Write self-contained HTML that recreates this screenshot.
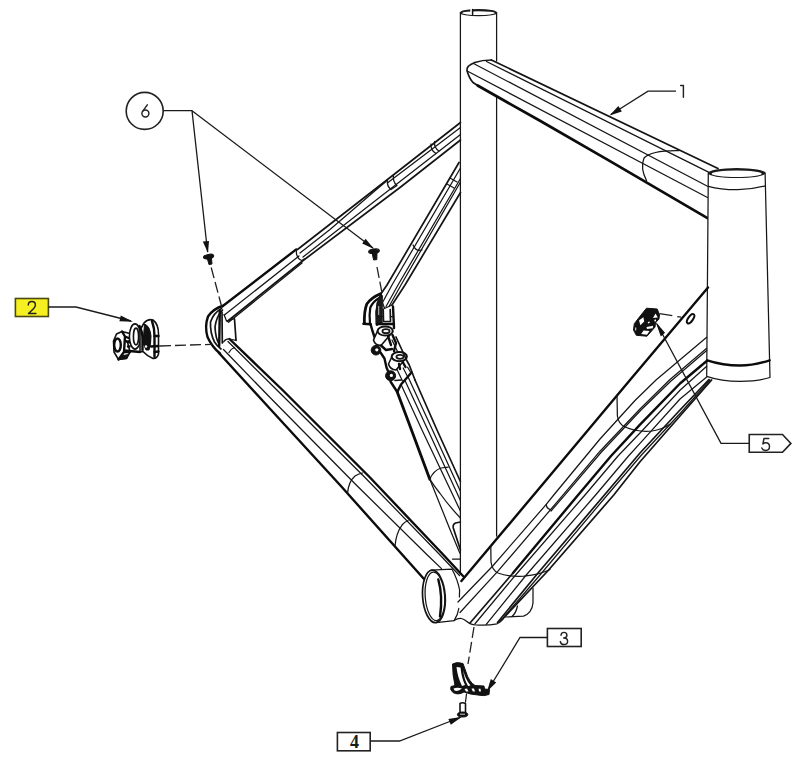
<!DOCTYPE html>
<html>
<head>
<meta charset="utf-8">
<title>Frame exploded view</title>
<style>
html,body{margin:0;padding:0;background:#fff;}
body{width:800px;height:762px;overflow:hidden;font-family:"Liberation Sans",sans-serif;}
svg{display:block;}
.t{fill:none;stroke:#161616;stroke-width:1.25;stroke-linecap:round;stroke-linejoin:round;}
.m{fill:none;stroke:#141414;stroke-width:1.7;stroke-linecap:round;stroke-linejoin:round;}
.k{fill:none;stroke:#0c0c0c;stroke-width:2.4;stroke-linecap:round;stroke-linejoin:round;}
.w{fill:#fff;stroke:#161616;stroke-width:1.25;stroke-linejoin:round;}
.wk{fill:#fff;stroke:#111;stroke-width:1.6;stroke-linejoin:round;}
.f{fill:#111;stroke:#111;stroke-width:1;stroke-linejoin:round;}
.d{fill:none;stroke:#222;stroke-width:1.3;stroke-dasharray:11 4;}
.l{fill:none;stroke:#1a1a1a;stroke-width:1.3;}
.a{fill:#111;stroke:none;}
.b{fill:none;stroke:#222;stroke-width:1.6;stroke-linejoin:miter;}
.g{fill:none;stroke:#222;stroke-width:1.45;stroke-linecap:round;stroke-linejoin:round;}
text{fill:#1a1a1a;}
</style>
</head>
<body>
<svg width="800" height="762" viewBox="0 0 800 762">
<rect width="800" height="762" fill="#fff"/>

<!-- ================= SEAT STAYS (behind seat tube) ================= -->
<g id="seatstay-near">
  <path class="k" d="M222.5 306.25 L296.25 249.4"/>
  <path class="m" d="M297.5 249.5 L387.5 179.5 L460.5 122.5"/>
  <path class="t" d="M224.4 315 L299 256"/>
  <path class="t" d="M300 253 L330 229.5 L375 190.8 L386 181.500"/>
  <path class="t" d="M303 257 L400 181.5 L460.5 134.5"/>
  <path class="t" d="M388 182.500 L460.5 127.500"/>
  <path class="m" d="M227.5 321.25 L302.5 261 L400 187.5 L460.5 140"/>
  <path class="t" d="M228.6 322.300 L302 263"/>
  <path class="t" d="M296.25 249.4 L296.500 254 Q298 259.500 302 260.500 L304.500 258.800"/>
  <path class="t" d="M387.500 179.500 Q386.500 186 391 189.500 M393.500 175 Q392.500 182 397 185.500 M391 189.500 L397 185.500"/>
  <path class="t" d="M431 144 Q430.500 150.500 436 153.500 M434.500 141.500 Q434 148 439 151"/>
</g>
<g id="seatstay-far">
  <path class="m" d="M380.5 294.5 L387 285 L459 162.5"/>
  <path class="t" d="M382.5 302.5 L392 285 L460.5 168"/>
  <path class="t" d="M386 306.5 L398 285 L460.5 178.5"/>
  <path class="t" d="M389 306.500 L401 285 L460.5 182"/>
  <path class="m" d="M392 305 L405 285 L460.5 192.5"/>
  <path class="t" d="M413 245 Q416 252 422 250"/>
  <path class="t" d="M450 178 L457 182 M447 184 L454 188"/>
</g>

<!-- ================= FAR CHAINSTAY ================= -->
<g id="chainstay-far">
  <path class="k" d="M397.250 392 L408.5 422 L429.8 479.2" style="stroke-width:2.8"/>
  <path class="t" d="M429.8 479.2 L450.2 530 L459.8 553"/>
  <path class="t" d="M401.4 385.25 L422 430 L460.4 511"/>
  <path class="t" d="M404.75 380 L427.9 430 L460.4 500.5"/>
  <path class="t" d="M407.75 376.25 L432.5 430 L460.4 491.3"/>
  <path class="m" d="M415 380 L437 430 L460.4 481.5"/>
  <path class="t" d="M429.8 479.2 Q433.500 470.500 441 468 L448.2 467.1"/>
  <path class="t" d="M429.8 479.2 Q434 486 439.7 493 Q449 506 460.4 518"/>
  <path class="m" d="M460.4 522 L455.500 523 Q452.5 524.500 453.3 528 L460.4 549.8"/>
  <path class="t" d="M452.5 559.2 L460.4 559.2"/>
</g>

<!-- ================= SEAT TUBE ================= -->
<g id="seattube">
  <path class="t" d="M460.4 12.5 L460.4 574"/>
  <path class="t" d="M496.6 12.5 L496.6 61 M496.6 97 L496.6 536"/>
  <ellipse cx="478.5" cy="12.65" rx="18.7" ry="3.700" fill="#1a1a1a"/>
  <ellipse cx="478.5" cy="13.100" rx="16.300" ry="1.900" fill="#fff"/>
  <path d="M470.300 8 L472 8 L472 14 L470.300 14 Z" fill="#fff"/>
  <path class="m" d="M472.600 9.500 L472.600 14.600" style="stroke-width:1.5"/>
</g>

<!-- ================= TOP TUBE ================= -->
<g id="toptube">
  <path class="m" d="M491.4 60 L718 168.4"/>
  <path class="t" d="M486.5 61.500 L709 172.4"/>
  <path class="t" d="M474 63.7 L707.5 186.25"/>
  <path class="t" d="M467.2 71 L707.5 197.5"/>
  <path class="k" d="M477.6 85.5 L540 120.8 L610 161.2 L707.5 218.1" style="stroke-width:2.7"/>
  <path class="m" d="M491.4 60 Q482 60 474.8 62.5 Q466 66 467 70.5 Q469 78 473 82.5 L477.6 85.5"/>
  <path class="t" d="M646.5 180.5 Q640 168 644 158 Q652 150 679 150.6"/>
</g>

<!-- ================= HEAD TUBE ================= -->
<g id="headtube">
  <path class="w" d="M708.3 173 L706.7 376.3 C716 379.500 728 381.300 740 381.300 C752 381.300 762 380 770 377.500 L765.1 173 Z"/>
  <ellipse cx="736.7" cy="173.1" rx="28.9" ry="5" fill="#1a1a1a"/>
  <ellipse cx="736.7" cy="173.8" rx="25" ry="3.2" fill="#fff"/>
  <path class="t" d="M708.3 186.3 C720 189.500 730 189.800 738 189.700 C748 189.500 757 188 765.3 185.8"/>
  <path class="k" d="M707.2 360.3 C720 364.500 730 365.500 740 365.500 C750 365.500 760 363.500 769.6 360.3"/>
</g>

<!-- ================= DOWN TUBE ================= -->
<g id="downtube">
  <!-- under-BB boss -->
  <path class="t" d="M533 588 L533 603 Q532 613 523.5 616.2 L505 617"/>
  <path class="t" d="M517.5 606 Q516 613 512 616.5"/>
  <!-- top edge -->
  <path class="k" d="M708 287.5 L630 380 L546.25 480 L461.4 581"/>
  <!-- L1 -->
  <path class="t" d="M706.7 337.3 L656 380 L635 400.5 L600 439 L553.75 495 L546.25 504.4 L492.5 566.25 L458 602"/>
  <path class="t" d="M546.25 504.4 Q546.5 508.5 550.3 509.6"/>
  <!-- L2 double -->
  <path class="t" d="M706.7 348.3 L670 379.5 L640 409 L600 451.2 L563.75 494.2 L497.5 571.7 L460 612.5"/>
  <path class="t" d="M706.7 350.5 L671 381 L641 410 L601 452.5 L564.75 495.2 L551 511"/>
  <!-- L3 thick -->
  <path class="k" d="M706.7 361 L680 383.5 L640 424.6 L611 456 L578.1 495 L513 573"/>
  <path class="m" d="M513 573 L470 623"/>
  <!-- L4 -->
  <path class="t" d="M706.7 366.3 L680 390.3 L640 433 L618 456 L585 495 L515.6 575 L475 623.75"/>
  <!-- L5 -->
  <path class="t" d="M706.7 376.9 L680 399 L640 443.3 L628.5 456 L595.6 495 L526.25 575 L486.25 624.4"/>
  <!-- L6 L7 double -->
  <path class="m" d="M709 379.5 L680 410 L640 453 L604.4 495 L538 573 L497.5 622.5"/>
  <path class="t" d="M710 380 L681 412.5 L641.5 455 L606.5 496 L540 575 L500 621.5"/>
  <!-- L8 bottom edge -->
  <path class="m" d="M711.6 380 L680 416 L640 461.8 L613.75 495 L547.5 571.25 L505 616.5"/>
  <!-- head lug curve -->
  <path class="t" d="M617 395 L617.4 416 Q618.5 424 625 427 Q638 432.5 652 431 Q662 429.5 670.5 424"/>
  <!-- BB lug curve -->
  <path class="t" d="M490.8 546 L491 562 Q492 570 498 573 Q508 577 524 576.2 Q540 574.5 550 569.5"/>
</g>

<!-- ================= BB SHELL ================= -->
<g id="bb">
  <path class="t" d="M431 570.2 L452 569.2 Q457.500 579 459.600 590 L459.400 597"/>
  <path class="t" d="M458.800 608.500 Q458 614.500 454.1 620.6 L436.2 622.7"/>
  <path class="t" d="M454.1 620.6 Q458 618 461.4 618.5 Q464 619 466.500 621.300 Q470 624.500 476 625 Q488 625.800 497 623.800 Q502 621.500 505 616.5"/>
  <ellipse class="m" cx="433.9" cy="596.4" rx="11.3" ry="26.3" transform="rotate(-4 433.9 596.4)"/>
  <ellipse class="t" cx="434.9" cy="596.4" rx="9.700" ry="24.300" transform="rotate(-4 434.9 596.4)"/>
  <path class="k" d="M438.300 579.500 Q443 596 440 616.500"/>
</g>

<!-- ================= NEAR CHAINSTAY ================= -->
<g id="chainstay-near">
  <path class="k" d="M229.5 339 L282.5 390 L370 477.5 L444 555.5 L463 576"/>
  <path class="t" d="M228 341.5 L276.9 390 L365 477.5 L441 556 L459.5 575.5"/>
  <path class="t" d="M223.5 349.5 L270 397.5 L356.25 485 L427.3 555 L441.5 568.6"/>
  <path class="k" d="M219 353 L270 408.75 L340 485 L424 579"/>
  <path class="t" d="M347.5 493.5 Q348.500 481.500 355 476 Q358 474 362.5 473"/>
  <path class="t" d="M395 546.25 Q396 533 402 525 Q404.500 522 408 520.500"/>
</g>

<!-- ================= NEAR DROPOUT ================= -->
<g id="dropout-near">
  <path class="k" d="M222.5 306 Q213 309 208 316.5 Q204.5 326 207.5 337 Q212 347 220 353.5"/>
  <path class="m" d="M221.5 308.5 Q213.5 313 210.5 322 Q210 333 214.5 342 Q217 346 221 349"/>
  <path class="m" d="M222.5 310 Q216.5 316 215 327 Q215.5 338 219 344"/>
  <path class="k" d="M219.8 311 L219.2 346"/>
  <path class="m" d="M222 312 L222.3 343"/>
  <path class="t" d="M224 314.5 L226.5 321 L234.3 318.6"/>
  <path class="m" d="M234.5 319 L236 340.3"/>
  <path class="t" d="M223.5 342 Q226 338.5 229.5 339 L236 340.3"/>
  <path class="t" d="M229 352.5 Q230.5 349 234.5 347.5"/>
</g>

<!-- ================= FAR DROPOUT + HANGER ================= -->
<g id="dropout-far">
  <!-- hook -->
  <path class="k" stroke-width="2.8" d="M380.5 293.8 Q371.5 297.5 366.8 304 Q364 311 364.4 323.6" style="stroke-width:2.8"/>
  <path class="k" d="M379.2 298 Q373 301.500 370.3 307.500 Q369 315 370 323.8" style="stroke-width:2.2"/>
  <path class="k" d="M363.4 323.8 L370.8 324.2"/>
  <path class="k" d="M380.8 295.500 Q377.5 303 376.6 312 L377 324.500" style="stroke-width:2.8"/>
  <path class="k" d="M381.800 296 L381.2 323.500" style="stroke-width:2.2"/>
  <path class="k" d="M370.5 324.2 L372.500 331 L375 338.500"/>
  <path d="M380.5 294 L376.500 303 L375.800 324 L382.500 324 L382.500 301 Z" fill="#1a1a1a"/>
  <path d="M378.300 306 L379.200 306 L379.200 315 L378.300 315 Z" fill="#ddd"/>
  <!-- seat stay far end cap -->
  <path class="t" d="M382.5 302.5 L384.5 308.5 L392 305"/>
  <!-- body -->
  <path class="m" d="M383.2 309 L383.5 321.5 L390.5 321.5 L390.2 309.5"/>
  <path class="k" d="M393 306.5 L394 328"/>
  <path class="t" d="M378 316.5 L383.3 316.5 M390.3 316.5 L393.5 316.5"/>
  <path class="k" d="M377 324 L394 324"/>
  <!-- upper boss -->
  <path class="wk" d="M377.5 331 L373.5 340 Q375 345.5 381 345.5 L392.5 332 Z"/>
  <ellipse class="wk" cx="385.2" cy="331" rx="7.6" ry="4.6" style="stroke-width:2"/>
  <ellipse class="m" cx="386" cy="331.2" rx="3.6" ry="2"/>
  <!-- ear 1 -->
  <circle class="f" cx="376" cy="350.2" r="4.8"/>
  <circle cx="376.800" cy="349.800" r="1.6" fill="#fff"/>
  <!-- link between bosses -->
  <path class="k" d="M381 345.5 L386 350 L392 349 M388 336 L391 345 M392.5 335 L396 343 L394 351"/>
  <path class="k" d="M380.5 352.500 L384.5 358.5 L386.500 367.500 L388 371"/>
  <!-- lower boss -->
  <path class="wk" d="M392 356.5 L388.5 364 Q390 369.5 396 370 L406 358 Z"/>
  <ellipse class="wk" cx="399.3" cy="356.6" rx="7.6" ry="4.6" style="stroke-width:2"/>
  <ellipse class="m" cx="400" cy="356.8" rx="3.6" ry="2"/>
  <path class="k" d="M399 364 L400 369 M403 362.5 L405.5 367"/>
  <!-- ear 2 -->
  <circle class="f" cx="390.600" cy="375.800" r="5"/>
  <circle cx="391.400" cy="375.400" r="1.6" fill="#fff"/>
  <!-- lug edge and triangle -->
  <path class="k" d="M411.5 372.500 L401 384.500 L397.250 392"/>
  <path class="k" d="M390.500 381.500 L397.250 392"/>
  <path class="m" d="M395 380.500 L401 380 "/>
  <!-- hanger short lines above lug edge -->
  <path class="t" d="M397 369.500 L402.500 381"/>
  <path class="t" d="M403.200 368 L407 375.500"/>
  <path class="t" d="M407.600 367.200 L410.800 372.500"/>
  <!-- far chainstay right edge from boss -->
  <path class="m" d="M396 337 L407 361 L409.25 365 L415 380"/>
  <path class="t" d="M392 340 L397.500 351.500"/>
</g>

<!-- ================= PART 6 SCREWS ================= -->
<g id="screws">
  <ellipse class="f" cx="208.6" cy="256.6" rx="5.2" ry="2.2" transform="rotate(-12 208.6 256.6)"/>
  <path class="f" d="M207.2 258 L209 264.6 L212 264 L211.4 257.5 Z"/>
  <ellipse class="f" cx="374" cy="251.2" rx="5.4" ry="2.2" transform="rotate(-8 374 251.2)"/>
  <path class="f" d="M372 252.5 L373.6 260 L376.8 259.6 L377 252 Z"/>
</g>

<!-- ================= DASHED ================= -->
<g id="dashes">
  <path class="d" d="M211.2 267.500 L221.5 306"/>
  <path class="d" d="M377 267 L382 293"/>
  <path class="d" d="M160 346 L212 344.3"/>
  <path class="d" d="M474 627 L468 664"/>
  <path class="d" d="M659.500 313.600 L683 317.500" style="stroke-dasharray:13 5 4 40"/>
  <path class="t" d="M466.5 694 L465.5 702"/>
</g>

<!-- ================= PART 2 ================= -->
<g id="part2">
  <!-- hex knob -->
  <path class="wk" d="M116.5 334 L122 331.5 L130 333.5 L131 339 L127.5 342 L130 352 L126.5 358.5 L118.5 359.5 L114 352 L113.5 341 Z"/>
  <ellipse class="k" cx="117.5" cy="345" rx="3.3" ry="6.5"/>
  <path class="k" d="M122 331.5 L125 336.5 L124 352 L118.5 359.5 M125 336.5 L131 339 M124 352 L130 352"/>
  <path class="f" d="M118.5 359.5 L126.5 358.5 L128.5 354.5 L121 356 Z"/>
  <!-- shaft -->
  <path class="k" d="M125 341 L133 343 M124.5 350.5 L140 352 M128 346.5 L129.5 346.5"/>
  <!-- washer ring 1 -->
  <ellipse class="wk" cx="135" cy="336.5" rx="5.6" ry="12.6" stroke-width="2.2"/>
  <ellipse class="wk" cx="136" cy="336.5" rx="2.6" ry="8.4" stroke-width="1.8"/>
  <!-- body 2 -->
  <path class="wk" stroke-width="2.2" d="M144 323 Q148 318.5 153 320 Q158.5 324 158.5 334 L158.5 354 Q157 359 153 358.5 Q147 356 143 351.5 L140 352 L140 330 Z"/>
  <path class="f" d="M144.5 324 Q150 326 151 336 Q151 345 149 350 L146 350 L143 343 Z"/>
  <path class="k" d="M152 321 Q154.5 328 154.5 336 L154.5 357"/>
  <path class="k" d="M154.5 336 L158.5 336 M151 346.5 L158.5 346 M154.5 352 L158.5 351.5"/>
  <path class="k" d="M139.5 326 Q142.500 331 142.5 340 L142.5 350"/>
  <circle cx="146" cy="346.5" r="1.2" fill="#fff"/>
</g>

<!-- ================= PART 5 ================= -->
<g id="part5">
  <path class="f" d="M646.5 308.2 L657.2 309 L659.5 314.7 L658.9 319.2 L655.5 322.6 L655 327.1 L647 336.2 L636.3 335.3 L633.5 330 L634.3 323.7 L638.6 318.1 Z"/>
  <path d="M639.1 320.200 L643.4 317.300 L644.2 321.5 L640.3 325.200 Z" fill="#fff"/>
  <path d="M655.5 313.4 L657.8 317.5 L653 318.1 Z" fill="#fff"/>
  <path d="M646.5 327.1 L653.2 325.800 L652.7 328.2 L647 329 Z" fill="#fff"/>
  <path d="M643.6 330.6 L649.5 331 L647 334.7 L641.2 334 Z" fill="#fff"/>
  <path d="M647.800 322 L649.800 321.500 L649.500 323 L648 323.400 Z" fill="#fff"/>
  <path d="M635.200 327.500 L636.200 327.500 L636.200 330.500 L635.200 330.500 Z" fill="#eee"/>
  <path d="M654.300 319.800 L656 319.500 L656 321.200 L654.500 321.500 Z" fill="#fff"/>
  <ellipse class="k" cx="690.6" cy="318.700" rx="2.400" ry="5.400" transform="rotate(35 690.6 318.700)" style="stroke-width:2"/>
</g>

<!-- ================= PART 3 ================= -->
<g id="part3">
  <path class="f" d="M452.5 664 Q457 661.5 463 663.5 L466 672 Q469 682 475 685.5 L484 686 L484.5 689 L489.5 689.5 L489 694.5 Q484 696.5 478 695 Q470 694.5 464 692 Q458 695.500 453 692.500 Q449.500 689.500 451 686.5 L455 685.5 Q452.5 675 452.5 664 Z"/>
  <path d="M456.5 667 L460.5 667.500 Q461.5 678 465 685 L462 686 Q457.5 677 456.5 667 Z" fill="#fff"/>
  <path d="M463.2 670 Q465 679 470.5 685.5 L468 686 Q464 679 463.200 670 Z" fill="#fff"/>
  <path d="M453.5 688.5 Q457.5 687 462 688.5 Q458 692 454.5 690.5 Z" fill="#fff"/>
  <path d="M464.5 689 L467 688.5 L468.5 691.5 L466 691.5 Z M471.500 688.500 L474 688.5 L475 691.5 L472.8 691.5 Z M478.500 688.800 L480.5 688.8 L481 691.5 L479.2 691.500 Z" fill="#fff"/>
</g>

<!-- ================= PART 4 bolt ================= -->
<g id="part4">
  <path class="wk" d="M460 703.500 Q462.5 702 465.500 703.500 L465.5 712.5 L460 712.5 Z"/>
  <ellipse class="f" cx="462.600" cy="714.600" rx="5.200" ry="2.400"/>
  <path d="M460 714.200 L465 714.200" stroke="#fff" stroke-width="0.8"/>
</g>

<!-- ================= LABELS ================= -->
<g id="labels">
  <circle class="b" cx="144.7" cy="110.9" r="18.5"/>
  <path class="g" d="M147.3 104.800 L142.600 111.400"/>
  <circle class="g" cx="145.4" cy="113.5" r="3.500"/>
  <path class="l" d="M163.2 110.700 L192 110.700 L207.6 252 M192 110.700 L373 248"/>
  <path class="a" d="M208 253 L202.800 241.600 L209 241 Z"/>
  <path class="a" d="M374 249 L362.200 243.400 L365.600 238.800 Z"/>

  <rect x="15.400" y="298.500" width="33" height="18" fill="#f6f023" stroke="#4a4a10" stroke-width="1.600"/>
  <path class="g" transform="translate(27.9 301.4)" d="M0.4 3.7 C0.4 1.500 2 0.100 4 0.100 C6 0.100 7.500 1.500 7.500 3.500 C7.500 5 6.800 6.100 5.600 7.300 L0.600 12.200 L8 12.200"/>
  <path class="l" d="M48.400 307 L76 307 L131 321"/>
  <path class="a" d="M133 321.800 L119.400 321.200 L120.800 315.400 Z"/>

  <rect class="b" x="547.400" y="628.500" width="33.800" height="18"/>
  <path class="g" transform="translate(560.1 632.3)" d="M0.900 2.900 C1.100 1.200 2.300 0.100 3.900 0.100 C5.600 0.100 6.800 1.300 6.800 2.900 C6.800 4.600 5.600 5.600 3.600 5.700 C6 5.700 7.500 7 7.500 8.900 C7.500 10.900 6 12.300 3.900 12.300 C1.900 12.300 0.500 11.100 0.200 9.300"/>
  <path class="l" d="M547.400 637.500 L520 637.500 L488 690"/>
  <path class="a" d="M487 691.500 L490.800 679 L496.200 682.400 Z"/>

  <rect class="b" x="337.400" y="732.500" width="32.800" height="18.300"/>
  <text x="354.400" y="748" font-size="18" text-anchor="middle" font-weight="bold" font-family="Liberation Serif, serif">4</text>
  <path class="l" d="M370.200 741 L399.500 741 L460 717.500"/>
  <path class="a" d="M462 716.700 L450.800 724.800 L448.400 719 Z"/>

  <path class="b" d="M749.250 434.500 L782.500 434.500 L790.900 443.400 L782.500 452.300 L749.250 452.300 Z"/>
  <path class="g" transform="translate(761.6 438.2)" d="M7.200 0.300 L2.400 0.300 L1.300 5.700 C2.100 5 3.100 4.600 4.200 4.600 C6.400 4.600 7.900 6.200 7.900 8.400 C7.900 10.700 6.300 12.300 4 12.300 C2 12.300 0.700 11.300 0.200 9.700"/>
  <path class="l" d="M749.250 443.400 L721 443.400 L657 324"/>
  <path class="a" d="M655.600 321.800 L665 332.800 L660.800 336.400 Z"/>

  <path class="g" d="M680.700 85.500 L683.400 85.500 L683.400 97.200"/>
  <path class="l" d="M676 91.200 L648 91.200 L611 114.500"/>
  <path class="a" d="M609.500 115.500 L618.400 106 L621.800 111.400 Z"/>
</g>
</svg>
</body>
</html>
